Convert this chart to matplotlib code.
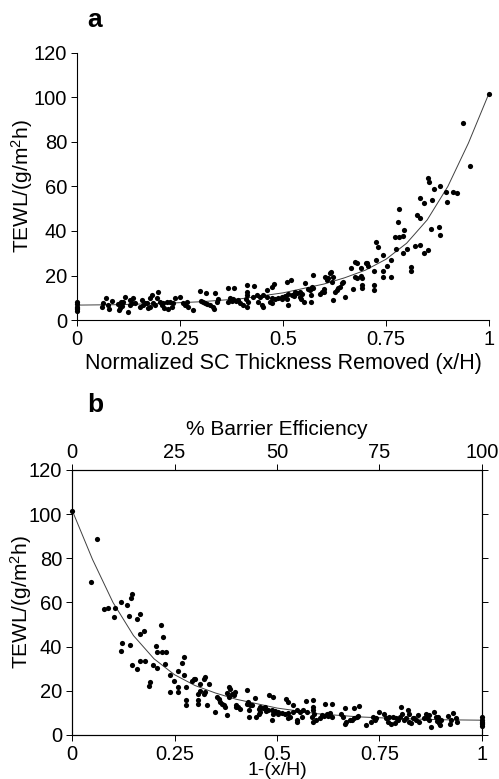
#!/usr/bin/env python3
import matplotlib
matplotlib.use('Agg')
import matplotlib.pyplot as plt
import numpy as np

# normalized SC thickness removed (x/H) and TEWL
x_removed = [
    0, 0, 0, 0, 0, 0,
    0.064, 0.076, 0.060, 0.078, 0.084, 0.070,
    0.100, 0.105, 0.110, 0.103, 0.108,
    0.112, 0.117, 0.125, 0.129, 0.133, 0.141, 0.129, 0.137,
    0.153, 0.161, 0.165, 0.169, 0.157, 0.177, 0.181, 0.173, 0.177,
    0.185, 0.189, 0.197, 0.195, 0.201, 0.206, 0.209, 0.218,
    0.211, 0.222, 0.230, 0.226, 0.234,
    0.238, 0.250, 0.258, 0.262, 0.270, 0.266, 0.282,
    0.299, 0.312, 0.335, 0.302, 0.306, 0.311, 0.316,
    0.331, 0.333, 0.339, 0.343, 0.323,
    0.366, 0.382, 0.371, 0.375, 0.378, 0.385, 0.391, 0.367,
    0.396, 0.404, 0.412, 0.430, 0.412, 0.412, 0.409, 0.414, 0.412,
    0.428, 0.436, 0.444, 0.452, 0.440, 0.450, 0.452,
    0.460, 0.473, 0.479, 0.462, 0.473, 0.481, 0.489, 0.497,
    0.468, 0.473,
    0.505, 0.513, 0.521, 0.527, 0.513, 0.497, 0.509,
    0.509, 0.519, 0.541, 0.545, 0.529, 0.534, 0.541, 0.544,
    0.574, 0.553, 0.571, 0.574, 0.561, 0.565, 0.594, 0.590, 0.568,
    0.552, 0.568,
    0.614, 0.617, 0.610, 0.602, 0.606, 0.618, 0.622,
    0.642, 0.638, 0.634, 0.646, 0.630, 0.626, 0.600, 0.600,
    0.650, 0.622,
    0.675, 0.679, 0.701, 0.689, 0.665, 0.692, 0.689, 0.692, 0.692, 0.671,
    0.703, 0.707, 0.675, 0.679,
    0.726, 0.731, 0.774, 0.792, 0.802, 0.821, 0.833, 0.842, 0.853,
    0.726, 0.742, 0.761, 0.752, 0.721, 0.742, 0.742, 0.761,
    0.810, 0.811, 0.721, 0.721,
    0.782, 0.824, 0.833, 0.779, 0.794, 0.771, 0.781, 0.792,
    0.858, 0.879, 0.881,
    0.833, 0.842, 0.862, 0.897,
    0.853, 0.855, 0.881, 0.867, 0.896, 0.912, 0.922,
    0.954, 0.938, 1.0,
]
tewl = [
    4, 5, 6, 7, 8, 5.5,
    7.5, 6.7, 6.0, 4.8, 8.7, 10.0,
    7.0, 5.5, 6.5, 4.5, 8.0,
    8.2, 10.5, 3.7, 6.7, 7.5, 7.8, 9.0, 9.7,
    6.0, 6.7, 7.5, 7.5, 9.0, 9.7, 11.2, 5.3, 6.0,
    7.5, 6.7, 12.7, 9.7, 8.2, 6.7, 7.5, 8.2,
    5.3, 4.8, 5.7, 8.2, 7.5,
    9.7, 10.5, 7.8, 6.7, 6.0, 8.2, 4.5,
    13.2, 12.3, 12.3, 8.5, 8.1, 7.6, 7.0,
    6.0, 4.8, 8.2, 9.3, 6.7,
    14.2, 14.2, 10.0, 8.5, 9.5, 8.5, 9.0, 8.2,
    7.8, 6.7, 15.7, 15.3, 12.7, 11.2, 9.3, 8.2, 6.0,
    10.5, 11.2, 10.5, 11.2, 8.2, 6.7, 6.0,
    13.5, 15.0, 16.2, 10.5, 10.0, 9.5, 10.0, 10.5,
    8.2, 7.5,
    11.0, 11.5, 11.2, 10.8, 6.7, 9.3, 9.6,
    17.2, 18.0, 12.7, 11.7, 12.7, 12.0, 10.5, 9.3,
    20.2, 16.8, 15.0, 14.2, 13.8, 13.5, 12.7, 11.7, 11.2,
    8.2, 8.2,
    21.0, 21.7, 18.7, 19.5, 18.0, 17.2, 19.2,
    16.5, 15.0, 14.2, 17.2, 13.5, 12.7, 13.8, 12.7,
    10.5, 9.0,
    26.2, 25.5, 25.5, 23.2, 23.2, 18.7, 19.8, 15.7, 14.2, 13.8,
    25.5, 24.3, 19.5, 18.7,
    35.2, 32.7, 32.0, 30.2, 31.8, 33.3, 33.7, 30.0, 31.5,
    27.0, 29.1, 27.0, 24.3, 21.9, 21.9, 19.5, 19.5,
    24.0, 22.2, 15.9, 13.5,
    49.7, 47.2, 45.7, 44.2, 40.4, 37.4, 37.4, 37.8,
    40.8, 41.7, 38.2,
    54.7, 52.7, 53.9, 53.2,
    63.7, 62.0, 60.2, 58.7, 57.5, 57.5, 57.2,
    69.2, 88.7, 101.6,
]

# fitted curve
fit_x = [0, 0.1, 0.2, 0.3, 0.4, 0.5, 0.6, 0.65, 0.7, 0.75,
         0.8, 0.85, 0.9, 0.95, 1.0]
fit_y = [6.7, 6.9, 7.4, 8.2, 9.6, 12.2, 16.2, 19.0, 22.4, 27.3,
         34.5, 45.0, 60.0, 79.5, 101.9]

xticks = [0, 0.25, 0.5, 0.75, 1]
xticklabels = ['0', '0.25', '0.5', '0.75', '1']
yticks = [0, 20, 40, 60, 80, 100, 120]
top_labels = ['0', '25', '50', '75', '100']


def style(ax, label_x):
    ax.set_xlim(0, 1)
    ax.set_ylim(0, 120)
    ax.set_xticks(xticks)
    ax.set_xticklabels(xticklabels)
    ax.set_yticks(yticks)
    ax.tick_params(direction='out', length=4, width=0.7, pad=3,
                   labelsize=14.5)
    for s in ax.spines.values():
        s.set_linewidth(0.8)
    ax.set_ylabel('TEWL/(g/m$^2$h)', fontsize=15, va='center')
    ax.yaxis.set_label_coords(label_x, 0.5)


def main():
    plt.rcParams['font.family'] = ['Liberation Sans', 'DejaVu Sans']
    plt.rcParams['mathtext.default'] = 'regular'

    fig = plt.figure(figsize=(4.99, 7.79), dpi=100)

    xr = np.array(x_removed)
    y = np.array(tewl)

    # panel a
    ax1 = fig.add_axes([0.1543, 0.5892, 0.8257, 0.3428])
    ax1.scatter(xr, y, s=14, color='black', linewidths=0, clip_on=False,
                zorder=3)
    ax1.plot(fit_x, fit_y, color='0.25', lw=0.7)
    ax1.spines['top'].set_visible(False)
    ax1.spines['right'].set_visible(False)
    style(ax1, -0.133)
    ax1.set_xlabel('Normalized SC Thickness Removed (x/H)', fontsize=15.5,
                   labelpad=3)

    # panel b
    ax2 = fig.add_axes([0.1443, 0.0565, 0.8216, 0.3402])
    ax2.scatter(1 - xr, y, s=14, color='black', linewidths=0, clip_on=False,
                zorder=3)
    ax2.plot(1 - np.array(fit_x), fit_y, color='0.25', lw=0.7)
    style(ax2, -0.125)
    ax2.tick_params(axis='y', right=True)
    ax2.set_xlabel('1-(x/H)', fontsize=14, labelpad=-1)

    top = ax2.twiny()
    top.set_xlim(0, 1)
    top.set_xticks(xticks)
    top.set_xticklabels(top_labels)
    top.tick_params(direction='out', length=4, width=0.7, pad=1.5,
                    labelsize=14.5)
    top.set_xlabel('% Barrier Efficiency', fontsize=15, labelpad=6)
    for s in top.spines.values():
        s.set_linewidth(0.8)

    fig.text(0.19, 0.974, 'a', fontsize=19, fontweight='bold',
             ha='center', va='center')
    fig.text(0.19, 0.48, 'b', fontsize=19, fontweight='bold',
             ha='center', va='center')

    fig.savefig('out.png', dpi=100)


if __name__ == "__main__":
    main()
